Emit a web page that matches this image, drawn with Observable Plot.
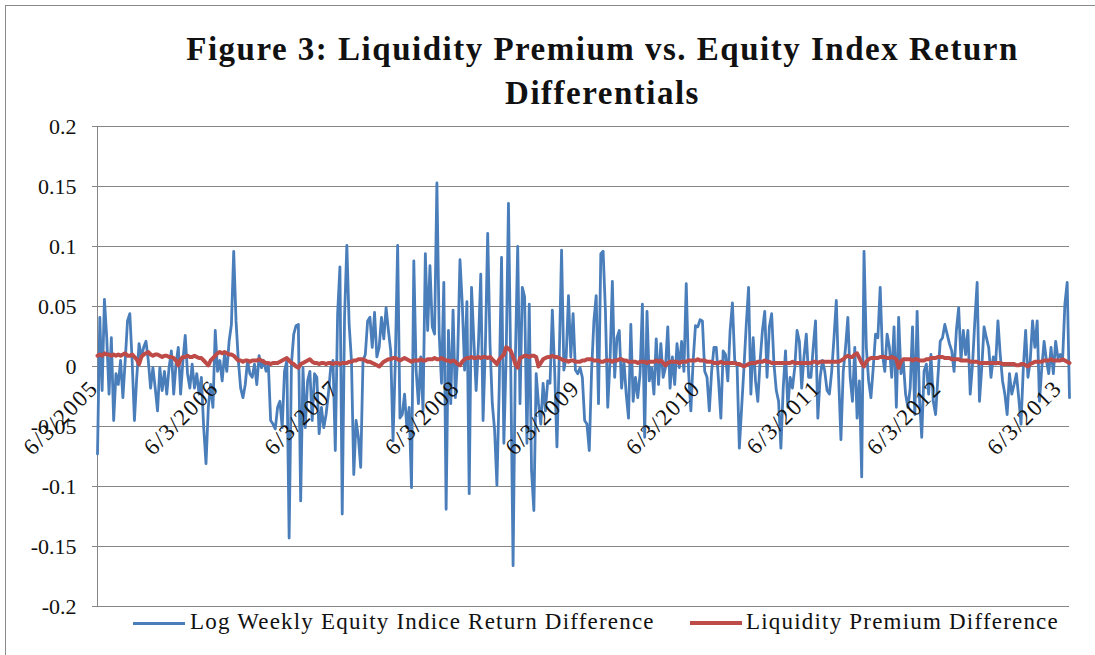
<!DOCTYPE html>
<html><head><meta charset="utf-8">
<script src="https://cdn.jsdelivr.net/npm/d3@7"></script>
<script src="https://cdn.jsdelivr.net/npm/@observablehq/plot@0.6"></script>
<style>
body{margin:0;background:#fff;}
#wrap{position:relative;width:1095px;height:655px;overflow:hidden;font-family:"Liberation Serif",serif;background:#fff;}
#frame{position:absolute;left:5px;top:5px;width:1200px;height:700px;border-left:1.5px solid #8a8a8a;border-top:1.5px solid #8a8a8a;}
#title{position:absolute;left:160px;width:885px;top:27px;text-align:center;font-weight:bold;font-size:33px;line-height:44px;color:#111;letter-spacing:1.5px;}
#chart{position:absolute;left:0;top:110px;}
#chart svg g[aria-label="text"] text{letter-spacing:1.6px;}
.lg{position:absolute;top:608px;font-size:23px;color:#111;white-space:nowrap;line-height:28px;letter-spacing:1.2px;}
.sw{position:absolute;height:3px;top:622px;}
</style>
</head><body>
<div id="wrap">
<div id="frame"></div>
<div id="title">Figure 3: Liquidity Premium vs. Equity Index Return<br>Differentials</div>
<div id="chart"></div>
<div class="sw" style="left:133px;width:52px;background:#4a7ebb"></div>
<div class="lg" style="left:190px">Log Weekly Equity Indice Return Difference</div>
<div class="sw" style="left:690px;width:52px;height:4px;top:621px;background:#be4b48"></div>
<div class="lg" style="left:746px">Liquidity Premium Difference</div>
</div>
<script>
// Weekly observations (Fridays) starting 6/3/2005
const startDate = [2005, 5, 3];
const seriesNames = ["Log Weekly Equity Indice Return Difference", "Liquidity Premium Difference"];

const equityDiff = [
-0.073,0.041,-0.020,0.056,0.024,-0.023,0.024,-0.045,-0.006,-0.015,
0.005,-0.026,0.005,0.038,0.044,0.005,-0.045,-0.009,0.019,0.008,
0.016,0.021,0.005,-0.018,-0.001,-0.018,-0.037,-0.001,-0.020,-0.004,
-0.023,-0.001,0.013,-0.023,0.002,0.016,-0.023,0.005,0.026,-0.006,
-0.018,0.002,-0.018,-0.006,-0.023,-0.009,-0.051,-0.081,-0.034,-0.015,
-0.034,0.030,-0.004,0.005,-0.012,0.010,-0.004,0.021,0.035,0.096,
0.038,0.005,-0.018,-0.026,-0.015,0.005,-0.006,-0.009,
0.002,-0.015,0.009,-0.001,0.005,-0.004,0.002,-0.045,-0.048,-0.052,
-0.034,-0.029,-0.051,-0.004,0.005,-0.143,0.002,0.027,0.034,0.035,
-0.112,-0.001,-0.051,-0.012,-0.004,-0.045,-0.006,-0.009,-0.056,-0.034,
-0.051,-0.040,-0.023,-0.001,0.005,-0.070,0.044,0.083,-0.123,0.041,
0.101,0.035,0.005,-0.090,-0.045,-0.059,-0.084,0.005,0.010,0.038,
0.041,0.016,0.045,0.008,0.016,0.041,0.023,0.049,0.030,0.013,
-0.062,0.005,0.101,-0.043,-0.040,-0.023,-0.051,-0.034,-0.101,0.088,
-0.003,-0.031,0.008,-0.037,0.094,0.030,0.084,0.033,0.027,0.153,
0.027,-0.014,0.070,-0.119,0.030,-0.031,0.047,-0.026,0.008,0.089,
0.052,-0.003,0.054,-0.106,0.066,0.022,-0.020,0.019,0.077,-0.045,
0.016,0.111,0.019,-0.031,-0.053,-0.099,-0.017,0.091,-0.064,0.008,
0.136,-0.003,-0.166,0.008,0.100,-0.031,0.066,0.058,-0.064,0.052,
-0.087,-0.120,-0.006,-0.031,-0.048,-0.014,-0.037,-0.012,-0.014,0.047,
-0.003,-0.067,0.008,0.097,-0.003,0.008,0.059,0.008,0.044,-0.003,
-0.006,-0.001,-0.009,-0.045,-0.048,-0.070,-0.004,0.038,0.059,-0.031,
0.094,0.096,0.046,-0.034,0.005,0.071,-0.009,0.024,0.030,-0.018,
0.005,-0.023,-0.043,0.035,-0.029,-0.009,-0.026,-0.006,0.052,-0.059,
0.046,-0.012,-0.001,-0.023,0.023,-0.015,0.019,-0.009,-0.001,0.033,
-0.018,0.008,-0.015,0.019,-0.001,0.021,-0.004,0.069,-0.004,-0.037,
0.005,0.034,0.033,0.039,0.038,-0.004,-0.009,-0.037,-0.004,0.016,
0.016,-0.012,-0.043,0.013,0.010,-0.012,0.030,0.053,
0.005,0.002,-0.068,-0.034,-0.001,0.035,0.066,-0.023,0.024,-0.012,
-0.029,0.005,0.030,0.046,-0.009,0.033,0.044,0.002,-0.020,-0.029,
-0.068,-0.018,0.013,-0.034,-0.009,-0.018,-0.001,0.030,0.021,-0.018,
0.008,0.027,-0.009,-0.009,0.016,0.038,-0.043,-0.009,0.005,-0.004,
-0.020,-0.023,-0.004,0.024,0.055,-0.009,-0.061,-0.004,0.016,0.041,
-0.009,-0.029,0.016,-0.043,-0.012,-0.092,0.096,0.016,-0.012,-0.026,
-0.001,0.027,0.024,0.066,0.010,-0.004,0.027,0.016,-0.009,0.033,
-0.034,0.041,-0.006,0.005,-0.023,-0.034,-0.018,0.033,-0.040,0.046,
-0.026,-0.059,-0.004,0.002,-0.023,0.010,-0.029,-0.040,-0.009,0.021,
0.024,0.035,0.027,0.019,0.013,-0.004,0.030,0.049,0.005,0.030,
0.010,0.030,-0.023,0.002,0.038,0.070,-0.029,-0.001,0.033,0.024,
0.016,-0.009,0.008,0.002,0.038,0.010,-0.012,-0.023,-0.040,-0.006,
-0.023,-0.015,-0.006,-0.026,-0.048,-0.001,0.030,-0.009,0.005,0.038,
0.016,0.038,-0.029,-0.001,0.021,0.005,-0.006,0.016,-0.006,0.021,
0.007,0.010,0.005,0.052,0.070,-0.026
];

const liquidityDiff = [
0.009,0.010,0.009,0.011,0.010,0.010,0.009,0.010,0.009,0.010,
0.009,0.010,0.011,0.009,0.009,0.010,0.008,0.006,0.002,0.008,
0.010,0.011,0.012,0.010,0.009,0.010,0.010,0.009,0.008,0.009,
0.009,0.008,0.008,0.007,0.005,0.001,0.006,0.008,0.008,0.009,
0.008,0.008,0.009,0.008,0.007,0.007,0.005,0.003,0.001,0.005,
0.007,0.009,0.011,0.012,0.011,0.012,0.011,0.010,0.010,0.009,
0.007,0.005,0.005,0.004,0.005,0.005,0.004,0.005,
0.005,0.005,0.006,0.005,0.004,0.003,0.003,0.002,0.003,0.003,
0.003,0.004,0.005,0.006,0.007,0.005,0.003,0.002,0.000,-0.001,
0.002,0.003,0.004,0.005,0.006,0.004,0.003,0.003,0.002,0.003,
0.003,0.002,0.003,0.003,0.002,0.003,0.003,0.002,0.003,0.003,
0.003,0.004,0.004,0.005,0.005,0.006,0.006,0.006,0.005,0.004,
0.004,0.003,0.002,0.001,0.000,0.002,0.004,0.005,0.006,0.006,
0.007,0.007,0.006,0.005,0.006,0.007,0.006,0.005,0.004,0.005,
0.005,0.005,0.006,0.005,0.005,0.006,0.006,0.006,0.007,0.006,
0.006,0.007,0.006,0.005,0.005,0.004,0.005,0.004,0.002,0.001,
0.004,0.006,0.007,0.007,0.008,0.007,0.007,0.008,0.007,0.008,
0.008,0.007,0.008,0.006,0.004,0.002,0.006,0.008,0.010,0.016,
0.015,0.013,0.008,0.002,-0.001,0.007,0.008,0.009,0.009,0.008,
0.009,0.009,0.008,0.000,0.003,0.006,0.007,0.008,0.008,0.009,
0.008,0.008,0.007,0.006,0.005,0.005,0.004,0.005,0.005,0.004,
0.004,0.004,0.005,0.005,0.006,0.006,0.006,0.005,0.005,0.005,
0.004,0.004,0.005,0.005,0.005,0.004,0.005,0.005,0.006,0.006,
0.005,0.005,0.004,0.004,0.004,0.004,0.003,0.004,0.004,0.004,
0.003,0.004,0.004,0.004,0.005,0.004,0.005,0.003,0.001,0.003,
0.004,0.004,0.004,0.004,0.003,0.004,0.004,0.004,0.005,0.005,
0.005,0.005,0.006,0.005,0.005,0.005,0.004,0.004,0.004,0.003,
0.003,0.003,0.004,0.003,0.003,0.003,0.003,0.003,
0.003,0.002,0.002,0.001,0.000,0.001,0.002,0.003,0.003,0.003,
0.004,0.004,0.004,0.005,0.004,0.004,0.003,0.003,0.003,0.003,
0.003,0.003,0.003,0.003,0.003,0.004,0.003,0.003,0.003,0.003,
0.003,0.003,0.003,0.003,0.004,0.004,0.003,0.004,0.004,0.004,
0.004,0.004,0.004,0.004,0.004,0.004,0.005,0.006,0.008,0.009,
0.008,0.008,0.010,0.011,0.007,0.003,0.000,0.004,0.006,0.007,
0.007,0.007,0.007,0.008,0.008,0.008,0.007,0.007,0.008,0.007,
0.006,-0.001,0.004,0.006,0.006,0.006,0.006,0.005,0.006,0.006,
0.005,0.005,0.005,0.006,0.006,0.007,0.007,0.007,0.008,0.008,
0.008,0.007,0.007,0.007,0.006,0.006,0.006,0.006,0.005,0.005,
0.005,0.005,0.004,0.004,0.004,0.004,0.003,0.003,0.003,0.003,
0.003,0.003,0.003,0.003,0.003,0.003,0.002,0.002,0.002,0.002,
0.002,0.002,0.001,0.001,0.002,0.002,0.001,0.000,0.002,0.003,
0.004,0.004,0.004,0.004,0.005,0.005,0.005,0.006,0.005,0.005,
0.005,0.005,0.006,0.005,0.004,0.003
];

const xTickLabels = ["6/3/2005","6/3/2006","6/3/2007","6/3/2008","6/3/2009","6/3/2010","6/3/2011","6/3/2012","6/3/2013"];
const yTicks = [-0.2,-0.15,-0.1,-0.05,0,0.05,0.1,0.15,0.2];
const yTickLabels = ["-0.2","-0.15","-0.1","-0.05","0","0.05","0.1","0.15","0.2"];

const dates = equityDiff.map((_, i) => new Date(Date.UTC(startDate[0], startDate[1], startDate[2] + 7 * i)));
const rows = equityDiff.map((v, i) => ({date: dates[i], eq: v, liq: liquidityDiff[i]}));
const xTickDates = xTickLabels.map(s => { const [m, d, y] = s.split("/").map(Number); return new Date(Date.UTC(y, m - 1, d)); });

const chart = Plot.plot({
  width: 1095, height: 520,
  marginLeft: 97, marginRight: 26, marginTop: 16, marginBottom: 24,
  style: {fontFamily: "'Liberation Serif', serif", background: "transparent", color: "#111", overflow: "visible"},
  x: {type: "utc", domain: [dates[0], dates[dates.length - 1]], axis: null},
  y: {domain: [-0.2, 0.2], axis: null},
  marks: [
    Plot.gridY(yTicks, {stroke: "#868686", strokeOpacity: 1, strokeWidth: 1}),
    Plot.ruleX([dates[0]], {stroke: "#868686", strokeWidth: 1}),
    Plot.axisY(yTicks, {tickSize: 5, tickPadding: 16, fontSize: 22, stroke: "#868686", fill: "#111",
      tickFormat: (d) => yTickLabels[yTicks.indexOf(d)]}),
    Plot.line(rows, {x: "date", y: "eq", stroke: "#4a7ebb", strokeWidth: 2.8, strokeLinejoin: "round"}),
    Plot.line(rows, {x: "date", y: "liq", stroke: "#be4b48", strokeWidth: 4, strokeLinejoin: "round"}),
    Plot.text(xTickDates, {x: d => d, y: () => 0, text: (d, i) => xTickLabels[i], rotate: -45,
      textAnchor: "end", lineAnchor: "bottom", dx: 2, dy: 23, fontSize: 23, fill: "#111"})
  ]
});
document.getElementById("chart").appendChild(chart);
</script>
</body></html>
